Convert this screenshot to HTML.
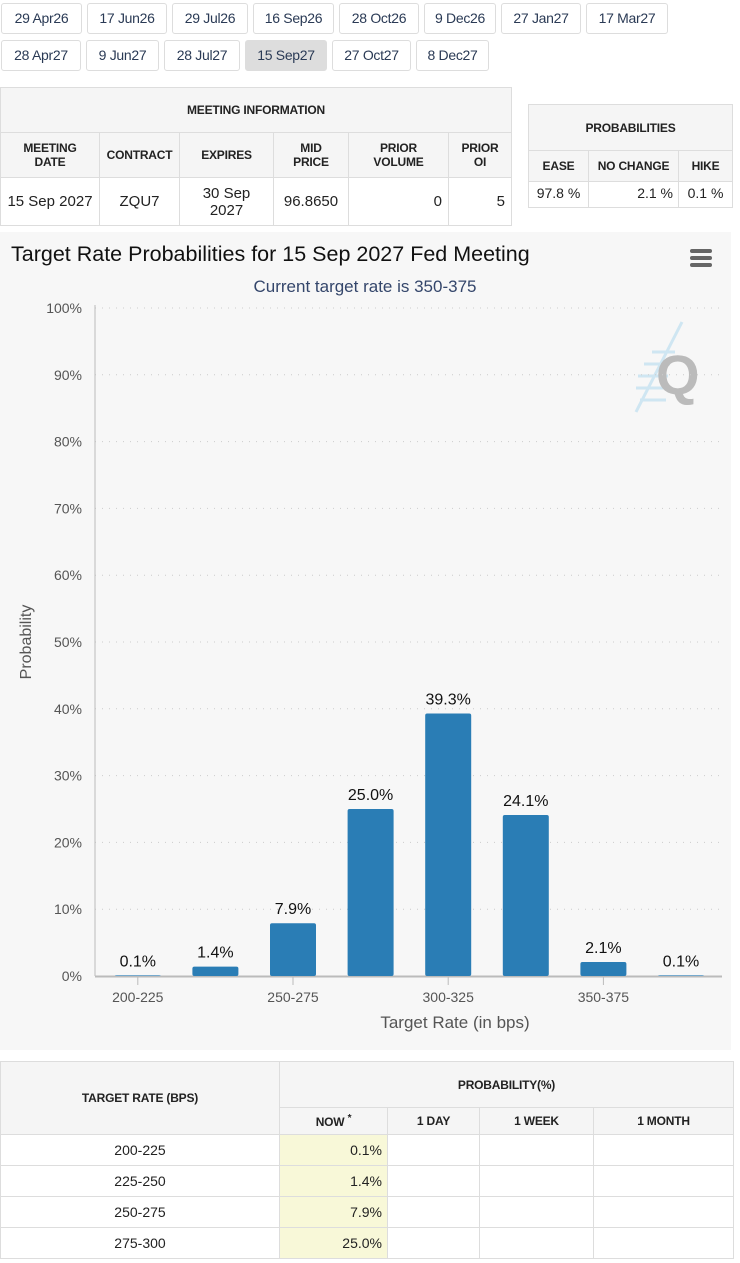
<!DOCTYPE html>
<html><head><meta charset="utf-8">
<style>
*{box-sizing:border-box;margin:0;padding:0}
body{width:740px;height:1263px;background:#fff;font-family:"Liberation Sans Narrow","Liberation Sans",sans-serif;color:#222;position:relative;overflow:hidden}
.tab{position:absolute;height:31px;border:1px solid #ddd;border-radius:3px;background:#fff;color:#2a3a55;font-size:14px;letter-spacing:-0.3px;line-height:29px;text-align:center;white-space:nowrap}
.tab.sel{background:#ddd}
table{border-collapse:collapse;position:absolute;font-size:13px}
td,th{border:1px solid #ddd;text-align:center}
th{background:#f5f5f5;font-weight:bold;font-size:12px;letter-spacing:-0.2px}
</style></head><body>
<div id="tabs"></div>

<table style="left:0;top:87px;width:512px">
<tr style="height:45px"><th colspan="6">MEETING INFORMATION</th></tr>
<tr style="height:45px"><th style="width:99px">MEETING<br>DATE</th><th style="width:80px">CONTRACT</th><th style="width:94px">EXPIRES</th><th style="width:75px">MID<br>PRICE</th><th style="width:100px">PRIOR<br>VOLUME</th><th>PRIOR<br>OI</th></tr>
<tr style="height:48px;font-size:15px"><td>15 Sep 2027</td><td>ZQU7</td><td>30 Sep<br>2027</td><td>96.8650</td><td style="text-align:right;padding-right:6px">0</td><td style="text-align:right;padding-right:6px">5</td></tr>
</table>

<table style="left:528px;top:104px;width:205px">
<tr style="height:46px"><th colspan="3">PROBABILITIES</th></tr>
<tr style="height:31px"><th style="width:60px">EASE</th><th style="width:90px">NO CHANGE</th><th>HIKE</th></tr>
<tr style="height:26px;font-size:14px;vertical-align:top"><td style="padding-top:3px">97.8 %</td><td style="text-align:right;padding:3px 5px 0 0">2.1 %</td><td style="padding-top:3px">0.1 %</td></tr>
</table>

<div style="position:absolute;left:0;top:232px;width:731px;height:818px;background:#f7f7f7"></div>
<svg id="chart" width="740" height="1050" style="position:absolute;left:0;top:0">
<text x="11" y="261" font-size="21.5" fill="#111">Target Rate Probabilities for 15 Sep 2027 Fed Meeting</text>
<text x="365" y="292" font-size="17" fill="#34466b" text-anchor="middle">Current target rate is 350-375</text>
<g fill="#666"><rect x="690" y="249" width="22" height="4" rx="2"/><rect x="690" y="256" width="22" height="4" rx="2"/><rect x="690" y="263" width="22" height="4" rx="2"/></g>
<g><g stroke="#cfe6f2" stroke-width="3"><line x1="652" y1="352" x2="675" y2="352"/><line x1="644" y1="364" x2="670" y2="364"/><line x1="638" y1="376" x2="668" y2="376"/><line x1="636" y1="388" x2="668" y2="388"/><line x1="640" y1="400" x2="666" y2="400"/><line x1="682" y1="322" x2="636" y2="412"/></g><text x="656" y="394" font-size="56" font-weight="bold" fill="#bbb">Q</text></g>
<text transform="translate(31,642) rotate(-90)" font-size="16" fill="#555" text-anchor="middle">Probability</text>
<text x="455" y="1028" font-size="17" fill="#555" text-anchor="middle">Target Rate (in bps)</text>
<g id="grid"></g><g id="bars"></g>
</svg>

<table style="left:0;top:1061px;width:734px">
<tr style="height:46px"><th rowspan="2" style="width:279px">TARGET RATE (BPS)</th><th colspan="4">PROBABILITY(%)</th></tr>
<tr style="height:27px"><th style="width:108px">NOW <sup>*</sup></th><th style="width:92px">1 DAY</th><th style="width:114px">1 WEEK</th><th>1 MONTH</th></tr>
<tbody id="ptable"></tbody>
</table>

<script>
const tabRow1=["29 Apr26","17 Jun26","29 Jul26","16 Sep26","28 Oct26","9 Dec26","27 Jan27","17 Mar27"];
const tabRow2=["28 Apr27","9 Jun27","28 Jul27","15 Sep27","27 Oct27","8 Dec27"];
const tabW1=[81,80,76,81,80,72,80,82];
const tabW2=[80,73,76,82,79,73];
const categories=["200-225","225-250","250-275","275-300","300-325","325-350","350-375","375-400"];
const values=[0.1,1.4,7.9,25.0,39.3,24.1,2.1,0.1];
const labels=["0.1%","1.4%","7.9%","25.0%","39.3%","24.1%","2.1%","0.1%"];
const yTicks=[0,10,20,30,40,50,60,70,80,90,100];

const tabs=document.getElementById('tabs');
function mkTabs(arr,ws,top){let x=1;arr.forEach((t,i)=>{const d=document.createElement('div');d.className='tab'+(t==='15 Sep27'?' sel':'');d.style.left=x+'px';d.style.top=top+'px';d.style.width=ws[i]+'px';d.textContent=t;


tabs.appendChild(d);x+=ws[i]+5;});}
mkTabs(tabRow1,tabW1,3);mkTabs(tabRow2,tabW2,40);

const NS='http://www.w3.org/2000/svg';
const x0=99,bw=77.6,y0=976,y100=308;
const yS=v=>y0-(v/100)*(y0-y100);
const xC=i=>x0+bw*(i+0.5);
function el(tag,at,parent,txt){const e=document.createElementNS(NS,tag);for(const k in at)e.setAttribute(k,at[k]);if(txt!==undefined)e.textContent=txt;parent.appendChild(e);return e;}
const grid=document.getElementById('grid'),bars=document.getElementById('bars');
yTicks.forEach(t=>{const y=yS(t);
if(t>0){const l=el('line',{x1:95,x2:722,y1:y,y2:y,stroke:'#ccc','stroke-dasharray':'1 6'},grid);

}
const tx=el('text',{x:82,y:y+5,'font-size':14,fill:'#555','text-anchor':'end'},grid,t+'%');

});
el('line',{x1:95,x2:95,y1:305,y2:976,stroke:'#bbb'},grid);
el('line',{x1:95,x2:722,y1:976.5,y2:976.5,stroke:'#bbb','stroke-width':2},grid);
categories.forEach((c,i)=>{
const cx=xC(i),y=yS(values[i]);
const r=el('rect',{x:cx-23,y:y,width:46,height:y0-y,fill:'#2a7db5',rx:2},bars);


const lb=el('text',{x:cx,y:y-9,'font-size':16,fill:'#111','text-anchor':'middle'},bars,labels[i]);


if(i%2===0){el('line',{x1:cx,x2:cx,y1:977,y2:985,stroke:'#bbb'},grid);
const xl=el('text',{x:cx,y:1002,'font-size':14,fill:'#555','text-anchor':'middle'},grid,c);

}
});
const pt=document.getElementById('ptable');
categories.slice(0,4).forEach((c,i)=>{const tr=document.createElement('tr');tr.style.height='31px';tr.style.fontSize='14px';
tr.innerHTML='<td>'+c+'</td><td style="background:#f8f8d8;text-align:right;padding-right:5px">'+labels[i]+'</td><td></td><td></td><td></td>';


pt.appendChild(tr);});
</script>
</body></html>
